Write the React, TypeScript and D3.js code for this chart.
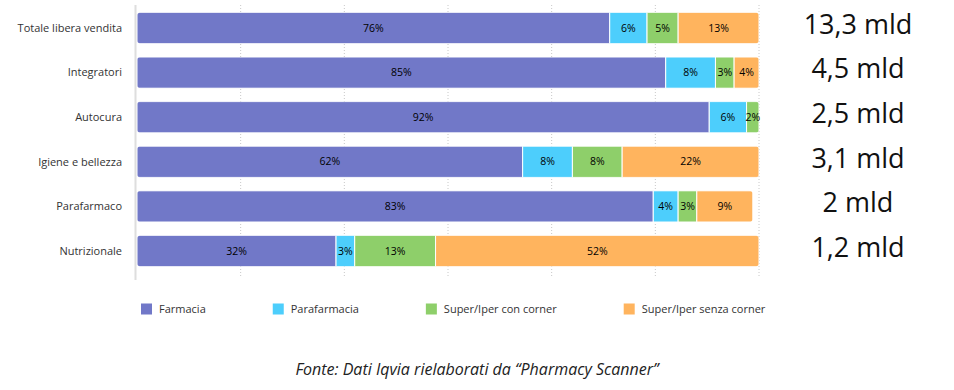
import { useRef, useEffect } from 'react';
import * as d3 from 'd3';

const WIDTH = 954;
const HEIGHT = 390;
const FONT = "'Open Sans', sans-serif";

const CATEGORIES = ['Totale libera vendita', 'Integratori', 'Autocura', 'Igiene e bellezza', 'Parafarmaco', 'Nutrizionale'];
const CHANNELS = ['Farmacia', 'Parafarmacia', 'Super/Iper con corner', 'Super/Iper senza corner'];
const COLORS = ['#7178c8', '#4dcefc', '#8ecf6a', '#ffb45e'];

// quota % per canale, una riga per categoria
const FARMACIA = [76, 85, 92, 62, 83, 32];
const PARAFARMACIA = [6, 8, 6, 8, 4, 3];
const CON_CORNER = [5, 3, 2, 8, 3, 13];
const SENZA_CORNER = [13, 4, 0, 22, 9, 52];

const TOTALS = ['13,3 mld', '4,5 mld', '2,5 mld', '3,1 mld', '2 mld', '1,2 mld'];
const SOURCE = 'Fonte: Dati Iqvia rielaborati da \u201cPharmacy Scanner\u201d';

export default function App() {
  const svgRef = useRef<SVGSVGElement>(null);

  useEffect(() => {
    const svg = d3.select(svgRef.current);
    svg.selectAll('*').remove();

    const rows = CATEGORIES.map((cat, i) => ({
      cat,
      total: TOTALS[i],
      values: [FARMACIA[i], PARAFARMACIA[i], CON_CORNER[i], SENZA_CORNER[i]],
    }));

    const x = d3.scaleLinear().domain([0, 100]).range([137, 759]);
    const y = d3.scaleBand().domain(CATEGORIES).range([5.7, 273.3]).paddingInner(0.3).paddingOuter(0.15);

    // griglia verticale tratteggiata
    svg.append('g')
      .selectAll('line')
      .data(d3.range(1, 7).map(k => (k * 100) / 6))
      .join('line')
      .attr('x1', d => x(d)).attr('x2', d => x(d))
      .attr('y1', 5).attr('y2', 276)
      .attr('stroke', '#c8c8c8')
      .attr('stroke-width', 1)
      .attr('stroke-dasharray', '1,2');

    svg.append('line')
      .attr('x1', 135.5).attr('x2', 135.5)
      .attr('y1', 5).attr('y2', 280)
      .attr('stroke', '#dedede').attr('stroke-width', 2);

    const defs = svg.append('defs');

    rows.forEach((r, i) => {
      const sum = d3.sum(r.values);
      const y0 = y(r.cat)!;
      const bw = y.bandwidth();
      const clipId = `clip-row-${i}`;
      defs.append('clipPath').attr('id', clipId)
        .append('rect')
        .attr('x', x(0)).attr('y', y0)
        .attr('width', x(sum) - x(0)).attr('height', bw)
        .attr('rx', 4);

      let acc = 0;
      const segs = r.values.map((v, j) => {
        const s = { start: acc, end: acc + v, v, j };
        acc += v;
        return s;
      }).filter(s => s.v > 0);

      const g = svg.append('g').attr('clip-path', `url(#${clipId})`);
      g.selectAll('rect')
        .data(segs)
        .join('rect')
        .attr('x', s => x(s.start))
        .attr('y', y0)
        .attr('width', s => x(s.end) - x(s.start))
        .attr('height', bw)
        .attr('fill', s => COLORS[s.j])
        .attr('stroke', '#fff')
        .attr('stroke-width', 1);

      svg.append('g')
        .selectAll('text')
        .data(segs)
        .join('text')
        .attr('x', s => (x(s.start) + x(s.end)) / 2)
        .attr('y', y0 + bw / 2)
        .attr('dy', '0.35em')
        .attr('text-anchor', 'middle')
        .attr('font-family', FONT)
        .attr('font-size', 10.5)
        .attr('fill', '#000')
        .text(s => `${s.v}%`);

      svg.append('text')
        .attr('x', 122)
        .attr('y', y0 + bw / 2)
        .attr('dy', '0.35em')
        .attr('text-anchor', 'end')
        .attr('font-family', FONT)
        .attr('font-size', 11)
        .attr('fill', '#333')
        .text(r.cat);

      svg.append('text')
        .attr('x', 858)
        .attr('y', y0 + bw / 2 - 4)
        .attr('dy', '0.36em')
        .attr('text-anchor', 'middle')
        .attr('font-family', FONT)
        .attr('font-size', 27)
        .attr('fill', '#111')
        .text(r.total);
    });

    // legenda: quadrato + etichetta, passo calcolato sulla larghezza del testo
    const legend = svg.append('g').attr('transform', 'translate(141,309)');
    let lx = 0;
    CHANNELS.forEach((name, i) => {
      const item = legend.append('g').attr('transform', `translate(${lx},0)`);
      item.append('rect')
        .attr('x', 0).attr('y', -5.5)
        .attr('width', 11).attr('height', 11)
        .attr('fill', COLORS[i]);
      const t = item.append('text')
        .attr('x', 18)
        .attr('dy', '0.35em')
        .attr('font-family', FONT)
        .attr('font-size', 11)
        .attr('fill', '#333')
        .text(name);
      const tw = (t.node() as SVGTextElement).getComputedTextLength();
      lx += 18 + tw + 67;
    });

    svg.append('text')
      .attr('x', 477)
      .attr('y', 369)
      .attr('dy', '0.35em')
      .attr('text-anchor', 'middle')
      .attr('font-family', FONT)
      .attr('font-style', 'italic')
      .attr('font-size', 16)
      .attr('fill', '#222')
      .text(SOURCE);
  }, []);

  return (
    <svg
      ref={svgRef}
      width={WIDTH}
      height={HEIGHT}
      style={{ position: 'absolute', left: 0, top: 0, background: '#fff' }}
    />
  );
}
